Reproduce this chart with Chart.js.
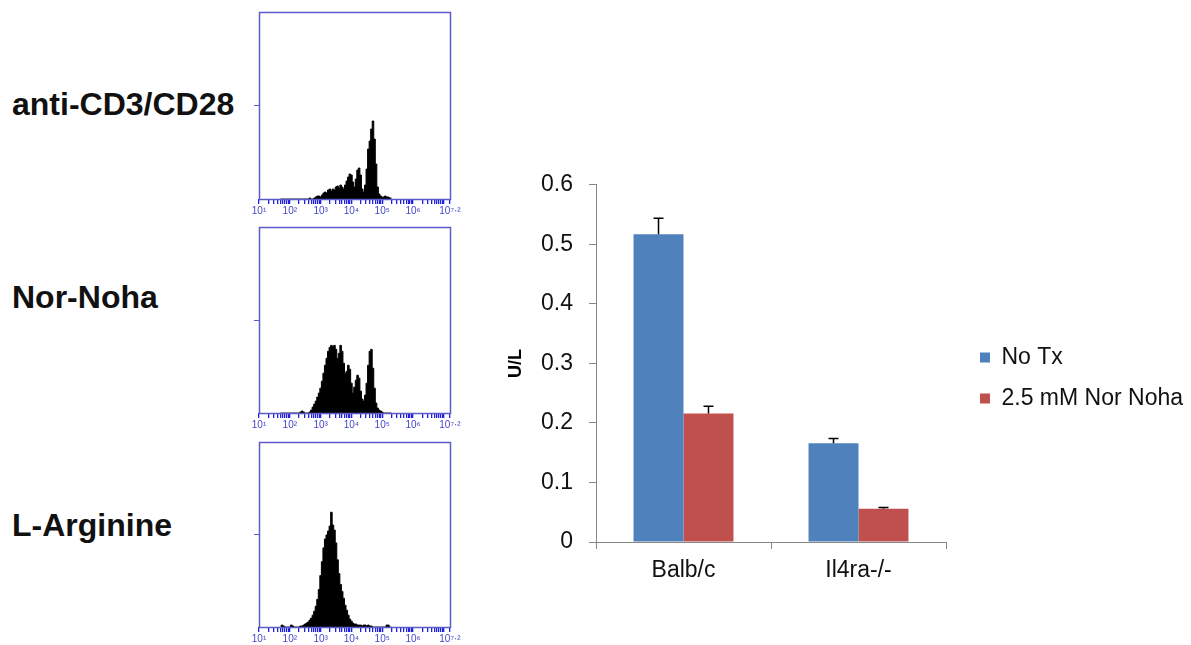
<!DOCTYPE html>
<html><head><meta charset="utf-8">
<script src="https://cdn.jsdelivr.net/npm/chart.js@4.4.1/dist/chart.umd.min.js"></script>
<style>
html,body{margin:0;padding:0;background:#fff;overflow:hidden;width:1191px;height:645px}
.lbl{position:absolute;font:bold 32px "Liberation Sans",Arial,sans-serif;line-height:32px;color:#111;white-space:nowrap}
canvas{position:absolute}
</style></head><body>
<div class="lbl" style="left:12px;top:88px">anti-CD3/CD28</div>
<div class="lbl" style="left:12px;top:281px">Nor-Noha</div>
<div class="lbl" style="left:12px;top:509px">L-Arginine</div>
<canvas id="h1" width="225" height="216" style="left:240px;top:5px"></canvas>
<canvas id="h2" width="225" height="215" style="left:240px;top:220px"></canvas>
<canvas id="h3" width="225" height="214" style="left:240px;top:435px"></canvas>
<canvas id="bars" width="700" height="445" style="left:500px;top:155px"></canvas>
<script>
// ---------- histogram data (log10 fluorescence bins, counts) ----------
const histBins = [1.70,1.75,1.80,1.85,1.90,1.95,2.00,2.05,2.10,2.15,
  2.20,2.25,2.30,2.35,2.40,2.45,2.50,2.55,2.60,2.65,
  2.70,2.75,2.80,2.85,2.90,2.95,3.00,3.05,3.10,3.15,
  3.20,3.25,3.30,3.35,3.40,3.45,3.50,3.55,3.60,3.65,
  3.70,3.75,3.80,3.85,3.90,3.95,4.00,4.05,4.10,4.15,
  4.20,4.25,4.30,4.35,4.40,4.45,4.50,4.55,4.60,4.65,
  4.70,4.75,4.80,4.85,4.90,4.95,5.00,5.05,5.10,5.15,
  5.20,5.25,5.30];
const countsCD3 = [0,0,0,0,0,0,0,0,0,0,
  0,0,0,0,0,0,0,0,0,1,
  0,0,1,2,3,3,2,4,6,7,
  6,9,10,8,10,9,12,13,11,14,
  12,10,14,18,22,25,24,17,12,20,
  29,31,24,10,7,14,30,50,58,70,
  78,60,35,12,5,3,2,2,3,2,
  2,1,1];
const countsNorNoha = [0,0,0,0,0,0,0,0,0,0,
  0,0,0,1,2,1,0,0,0,1,
  3,6,9,12,16,20,25,32,40,48,
  55,62,66,68,67,68,64,55,60,68,
  62,50,40,42,48,44,30,20,26,33,
  38,35,22,14,12,18,30,48,62,64,
  45,25,10,5,3,2,1,0,0,0,
  0,0,0];
const countsLArg = [1,2,1,0,0,0,0,2,1,0,
  0,0,0,1,1,2,3,4,5,7,
  9,12,16,21,28,38,52,66,80,89,
  93,97,102,116,103,98,85,68,54,43,
  36,29,22,17,12,8,6,4,3,3,
  2,2,2,1,2,2,1,2,1,1,
  0,0,0,0,0,0,0,0,0,2,
  2,0,0];
const histMax = 187;
const decadeLabels = {1:'10¹',2:'10²',3:'10³',4:'10⁴',5:'10⁵',6:'10⁶','7.2':'10⁷·²'};

// ---------- bar chart data ----------
const groups = ['Balb/c','Il4ra-/-'];
const noTx = [0.517, 0.166];
const noTxErr = [0.027, 0.008];
const norNoha = [0.216, 0.056];
const norNohaErr = [0.012, 0.002];
const seriesNames = ['No Tx','2.5 mM Nor Noha'];

const FONT = '"Liberation Sans", Arial, sans-serif';
Chart.defaults.font.family = FONT;

// log-scale tick positions for the cytometry axis
const logTicks = [];
for (let d = 1; d <= 6; d++) { for (let k = 1; k <= 9; k++) logTicks.push(d + Math.log10(k)); }
logTicks.push(7, 7.2);

const framePlugin = {
  id: 'frame',
  afterDraw(chart) {
    const a = chart.chartArea, ctx = chart.ctx;
    ctx.save();
    ctx.strokeStyle = '#5c5cc8'; ctx.lineWidth = 1.5;
    ctx.strokeRect(Math.round(a.left) + 0.5, Math.round(a.top) + 0.5, Math.round(a.right - a.left), Math.round(a.bottom - a.top));
    ctx.restore();
  }
};

function histChart(id, counts) {
  new Chart(document.getElementById(id), {
    type: 'line',
    data: { datasets: [{
      data: histBins.map((b, i) => ({ x: b, y: counts[i] })),
      stepped: 'middle', fill: 'origin',
      borderColor: '#000', backgroundColor: '#000', borderWidth: 1, pointRadius: 0
    }] },
    options: {
      responsive: false, animation: false, events: [],
      layout: { padding: { top: 7, right: 15, left: 0, bottom: 0 } },
      plugins: { legend: { display: false }, tooltip: { enabled: false } },
      scales: {
        x: {
          type: 'linear', min: 1, max: 7.2,
          afterBuildTicks: s => { s.ticks = logTicks.map(v => ({ value: v })); },
          afterFit: s => { s.height = 22; },
          border: { display: false },
          grid: { drawOnChartArea: false, tickLength: 5, color: '#1f1fe0', lineWidth: 1.3 },
          ticks: { autoSkip: false, maxRotation: 0, minRotation: 0, padding: 1,
                   font: { size: 10 }, color: '#4646c8',
                   callback: v => decadeLabels[String(Math.round(v * 1000) / 1000)] || '' }
        },
        y: {
          min: 0, max: histMax,
          afterBuildTicks: s => { s.ticks = [{ value: histMax / 2 }]; },
          afterFit: s => { s.width = 19; },
          border: { display: false },
          grid: { drawOnChartArea: false, tickLength: 5, color: '#5c5cc8' },
          ticks: { font: { size: 1 }, padding: 0, callback: () => '' }
        }
      }
    },
    plugins: [framePlugin]
  });
}
histChart('h1', countsCD3);
histChart('h2', countsNorNoha);
histChart('h3', countsLArg);

const errorBars = [noTxErr, norNohaErr];
const errorBarPlugin = {
  id: 'errbars',
  afterDatasetsDraw(chart) {
    const ctx = chart.ctx, ys = chart.scales.y;
    ctx.save();
    ctx.strokeStyle = '#000'; ctx.lineWidth = 1.5;
    chart.data.datasets.forEach((ds, di) => {
      chart.getDatasetMeta(di).data.forEach((bar, i) => {
        const top = ys.getPixelForValue(ds.data[i] + errorBars[di][i]);
        ctx.beginPath();
        ctx.moveTo(bar.x, bar.y); ctx.lineTo(bar.x, top);
        ctx.moveTo(bar.x - 5, top); ctx.lineTo(bar.x + 5, top);
        ctx.stroke();
      });
    });
    ctx.restore();
  }
};
// place the legend to the right of the plot, like the original figure
const legendPlace = {
  id: 'legendPlace',
  afterLayout(chart) {
    const lg = chart.legend; if (!lg) return;
    lg.left = 462; lg.right = 700;
    lg.top = 173; lg.bottom = 310;
    lg.width = lg.right - lg.left; lg.height = lg.bottom - lg.top;
  }
};

new Chart(document.getElementById('bars'), {
  type: 'bar',
  data: { labels: groups, datasets: [
    { label: seriesNames[0], data: noTx, backgroundColor: '#4F81BD' },
    { label: seriesNames[1], data: norNoha, backgroundColor: '#C0504D' }
  ] },
  options: {
    responsive: false, animation: false, events: [],
    datasets: { bar: { categoryPercentage: 0.571, barPercentage: 1 } },
    layout: { padding: { top: 18, bottom: 18, right: 254, left: 0 } },
    plugins: {
      tooltip: { enabled: false },
      legend: { position: 'chartArea', align: 'start',
        labels: { boxWidth: 10, boxHeight: 10, padding: 18, color: '#111', font: { size: 23 } } }
    },
    scales: {
      x: {
        grid: { drawOnChartArea: false, tickLength: 7, color: '#868686' },
        border: { color: '#868686' },
        ticks: { font: { size: 23 }, color: '#111', padding: 8 },
        afterFit: s => { s.height = 40; }
      },
      y: {
        min: 0, max: 0.6,
        ticks: { stepSize: 0.1, font: { size: 23 }, color: '#111', padding: 16 },
        grid: { drawOnChartArea: false, tickLength: 7, color: '#868686' },
        border: { color: '#868686' },
        title: { display: true, text: 'U/L', color: '#000', font: { size: 18, weight: 'bold' }, padding: { top: 5, bottom: 0 } },
        afterFit: s => { s.width = 96; }
      }
    }
  },
  plugins: [errorBarPlugin, legendPlace]
});
</script>
</body></html>
